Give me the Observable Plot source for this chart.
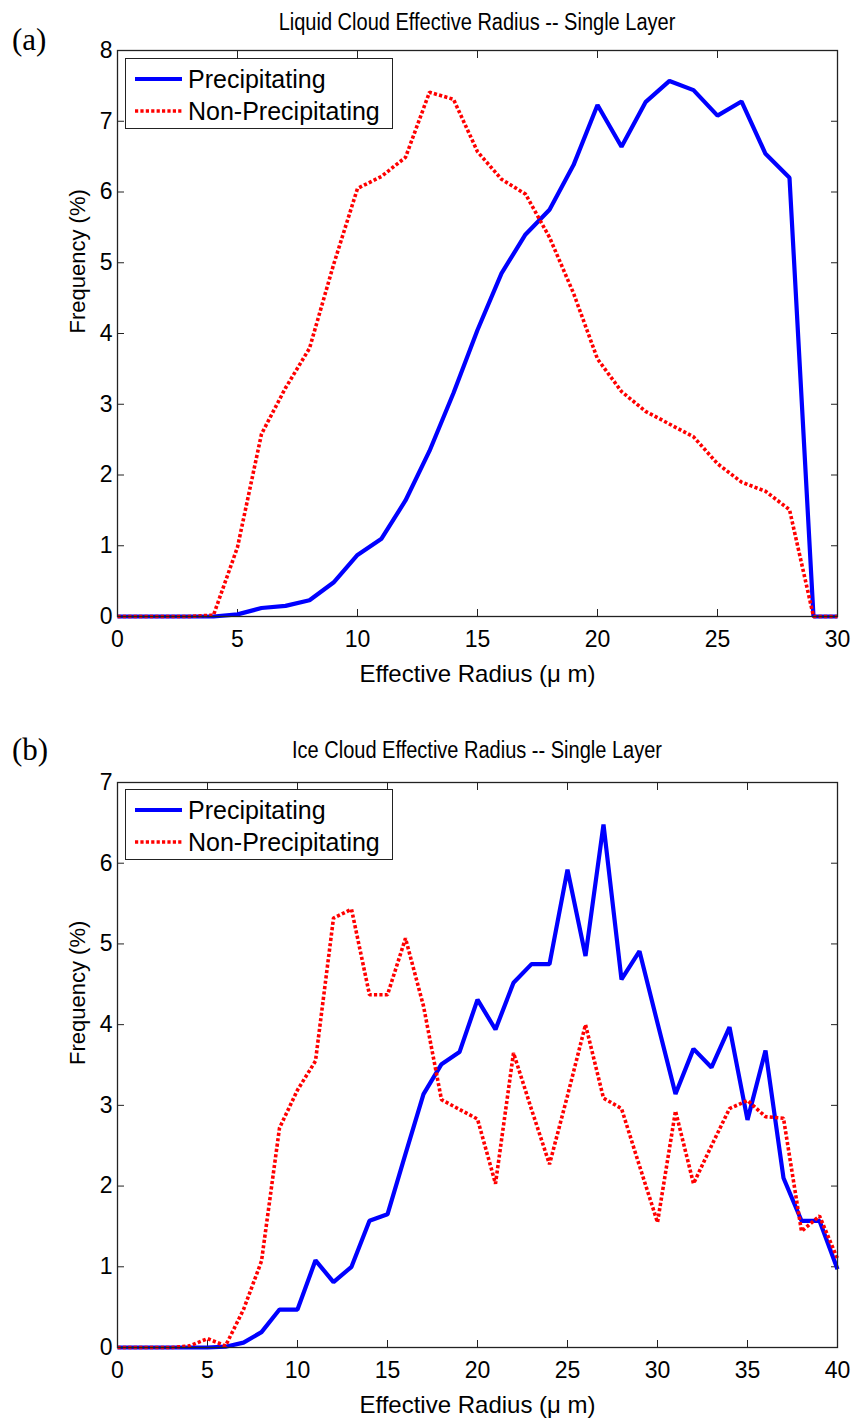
<!DOCTYPE html>
<html>
<head>
<meta charset="utf-8">
<script src="https://cdn.jsdelivr.net/npm/d3@7"></script>
<script src="https://cdn.jsdelivr.net/npm/@observablehq/plot@0.6"></script>
<style>
  html, body { margin: 0; padding: 0; background: #fff; }
  #root { position: relative; width: 854px; height: 1420px; overflow: hidden; font-family: "Liberation Sans", Arial, sans-serif; color: #000; }
  .panel { position: absolute; left: 0; }
  .title { position: absolute; white-space: nowrap; font-size: 23px; transform: translate(-50%, -50%) scaleX(0.87); }
  .tag { position: absolute; font-family: "Liberation Serif", "Times New Roman", serif; font-size: 31px; transform: translateY(-50%); }
  .legend { position: absolute; box-sizing: border-box; border: 1.3px solid #222; background: #fff; }
  .legend .row { position: absolute; left: 0; height: 30px; display: flex; align-items: center; font-size: 25px; white-space: nowrap; }
  .legend svg { margin-left: 9px; margin-right: 6px; }
</style>
</head>
<body>
<div id="root"></div>
<script>
// ---------- data ----------
const liquidRadius = [0,1,2,3,4,5,6,7,8,9,10,11,12,13,14,15,16,17,18,19,20,21,22,23,24,25,26,27,28,29,30];
const liquidPrecip = [0,0,0,0,0,0.03,0.12,0.15,0.23,0.48,0.87,1.1,1.64,2.34,3.16,4.05,4.85,5.4,5.75,6.38,7.23,6.64,7.27,7.57,7.44,7.08,7.28,6.54,6.2,0,0];
const liquidNonPrecip = [0,0,0,0,0.02,0.98,2.58,3.23,3.79,4.97,6.05,6.22,6.49,7.41,7.31,6.57,6.18,5.97,5.36,4.57,3.64,3.18,2.9,2.72,2.54,2.16,1.9,1.77,1.51,0,0];

const iceRadius = [0,1,2,3,4,5,6,7,8,9,10,11,12,13,14,15,16,17,18,19,20,21,22,23,24,25,26,27,28,29,30,31,32,33,34,35,36,37,38,39,40];
const icePrecip = [0,0,0,0,0,0,0.01,0.06,0.19,0.47,0.47,1.08,0.81,1.0,1.57,1.65,2.4,3.14,3.51,3.66,4.31,3.94,4.52,4.75,4.75,5.92,4.85,6.48,4.56,4.91,4.02,3.14,3.7,3.47,3.97,2.82,3.68,2.1,1.57,1.57,0.97];
const iceNonPrecip = [0,0,0,0,0.02,0.11,0.02,0.47,1.07,2.72,3.19,3.55,5.32,5.43,4.37,4.37,5.07,4.23,3.07,2.95,2.83,2.03,3.65,2.95,2.27,3.12,4.0,3.09,2.96,2.25,1.55,2.93,2.03,2.5,2.96,3.06,2.86,2.84,1.44,1.63,1.1];

const liquidXTicks = [0,5,10,15,20,25,30];
const liquidYTicks = [0,1,2,3,4,5,6,7,8];
const iceXTicks = [0,5,10,15,20,25,30,35,40];
const iceYTicks = [0,1,2,3,4,5,6,7];

const seriesNames = ["Precipitating", "Non-Precipitating"];
const seriesColors = ["#0000ff", "#ff0000"];
const titles = ["Liquid Cloud Effective Radius -- Single Layer", "Ice Cloud Effective Radius -- Single Layer"];
const tags = ["(a)", "(b)"];
const xLabel = "Effective Radius (\u03bc m)";
const yLabel = "Frequency (%)";

// ---------- drawing ----------
const root = document.getElementById("root");
const W = 854, ML = 117, MR = 17;
const DASH = "3.2,2.2";

function panel(o) {
  const rows = o.xs.map((x, i) => ({x, p: o.precip[i], n: o.non[i]}));
  const fs = 23;
  return Plot.plot({
    width: W, height: o.height,
    marginLeft: ML, marginRight: MR, marginTop: o.marginTop, marginBottom: o.marginBottom,
    x: {domain: o.xDomain},
    y: {domain: o.yDomain},
    style: {fontFamily: "'Liberation Sans', Arial, sans-serif", fontSize: fs + "px", color: "#000", background: "#fff", overflow: "visible"},
    marks: [
      Plot.axisX(o.xTicks, {anchor: "bottom", tickSize: -7, tickPadding: 21, tickFormat: d => String(d), label: null, fontSize: fs, stroke: "#222"}),
      Plot.axisX(o.xTicks, {anchor: "top", tickSize: -7, tickFormat: () => "", label: null, stroke: "#222"}),
      Plot.axisY(o.yTicks, {anchor: "left", tickSize: -7, tickPadding: 12, tickFormat: d => String(d), label: null, fontSize: fs, stroke: "#222"}),
      Plot.axisY(o.yTicks, {anchor: "right", tickSize: -7, tickFormat: () => "", label: null, stroke: "#222"}),
      Plot.line(rows, {x: "x", y: "p", stroke: seriesColors[0], strokeWidth: 4.2, strokeLinejoin: "miter", strokeLinecap: "butt"}),
      Plot.line(rows, {x: "x", y: "n", stroke: seriesColors[1], strokeWidth: 3.6, strokeDasharray: DASH, strokeLinecap: "butt", strokeLinejoin: "miter"}),
      Plot.frame({stroke: "#222", strokeWidth: 1.3}),
      Plot.text([xLabel], {frameAnchor: "bottom", dy: 58, text: d => d, fontSize: 24, lineAnchor: "middle"}),
      Plot.text([yLabel], {frameAnchor: "left", dx: -40, rotate: -90, text: d => d, fontSize: 22, lineAnchor: "middle"})
    ]
  });
}

function place(el, top) {
  el.classList.add("panel");
  el.style.top = top + "px";
  root.appendChild(el);
}

function legend(top) {
  const box = document.createElement("div");
  box.className = "legend";
  box.style.left = "125px";
  box.style.top = top + "px";
  box.style.width = "268px";
  box.style.height = "71px";
  seriesNames.forEach((name, i) => {
    const row = document.createElement("div");
    row.className = "row";
    row.style.top = (i === 0 ? 5 : 37) + "px";
    const dash = i === 0 ? "" : `stroke-dasharray="${DASH}"`;
    row.innerHTML = `<svg width="47" height="10"><line x1="0" y1="5" x2="47" y2="5" stroke="${seriesColors[i]}" stroke-width="${i === 0 ? 4.2 : 3.6}" ${dash}/></svg><span>${name}</span>`;
    box.appendChild(row);
  });
  root.appendChild(box);
}

function text(cls, str, left, top) {
  const d = document.createElement("div");
  d.className = cls;
  d.textContent = str;
  d.style.left = left + "px";
  d.style.top = top + "px";
  root.appendChild(d);
}

// Panel (a)
place(panel({xs: liquidRadius, precip: liquidPrecip, non: liquidNonPrecip,
  xDomain: [0, 30], yDomain: [0, 8], xTicks: liquidXTicks, yTicks: liquidYTicks,
  height: 700, marginTop: 50, marginBottom: 84}), 0);
legend(58);
text("title", titles[0], (ML + W - MR) / 2, 22);
text("tag", tags[0], 12, 40);

// Panel (b)
place(panel({xs: iceRadius, precip: icePrecip, non: iceNonPrecip,
  xDomain: [0, 40], yDomain: [0, 7], xTicks: iceXTicks, yTicks: iceYTicks,
  height: 700, marginTop: 62, marginBottom: 73}), 720);
legend(789);
text("title", titles[1], (ML + W - MR) / 2, 750);
text("tag", tags[1], 12, 750);
</script>
</body>
</html>
